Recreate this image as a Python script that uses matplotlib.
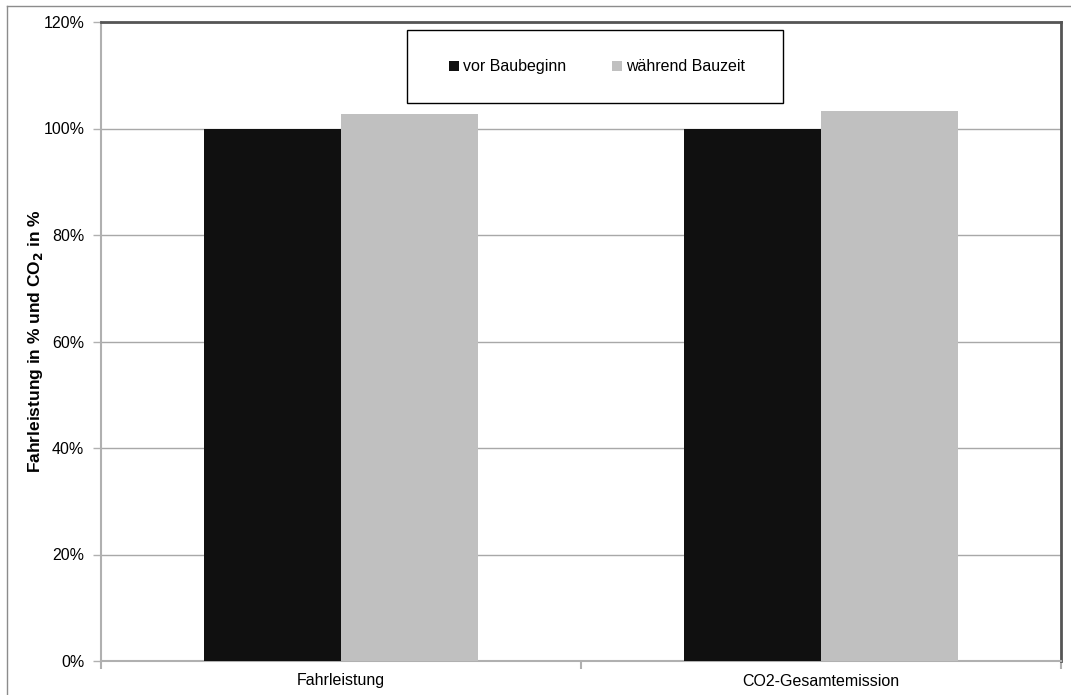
#!/usr/bin/env python3

import matplotlib
matplotlib.use("Agg")
import matplotlib.pyplot as plt
from matplotlib.lines import Line2D
from matplotlib.patches import Rectangle
import numpy as np

plt.rcParams['font.family'] = ['Liberation Sans', 'DejaVu Sans']

kategorien = ["Fahrleistung", "CO2-Gesamtemission"]
vor_baubeginn = [100.0, 100.0]
waehrend_bauzeit = [102.8, 103.3]
serien = ["vor Baubeginn", "während Bauzeit"]
y_ticks = [0, 20, 40, 60, 80, 100, 120]

fig = plt.figure(figsize=(10.71, 6.95), dpi=100)
ax = fig.add_axes([101/1071, 34/695, 960/1071, 639/695])

x = np.arange(len(kategorien))
w = 0.286
ax.bar(x - w/2, vor_baubeginn, w, color='#101010', zorder=3, label=serien[0])
ax.bar(x + w/2, waehrend_bauzeit, w, color='#c0c0c0', zorder=3, label=serien[1])

ax.set_xlim(-0.5, 1.5)
ax.set_ylim(0, 120)
ax.set_yticks(y_ticks)
ax.set_yticklabels([f"{v}%" for v in y_ticks])
ax.set_xticks(x)
ax.set_xticklabels(kategorien)
ax.set_xticks([-0.5, 0.5, 1.5], minor=True)
ax.tick_params(axis='x', which='major', length=0, pad=9, labelsize=11.5)
ax.tick_params(axis='x', which='minor', length=6, color='#b0b0b0', width=1.5)
ax.tick_params(axis='y', length=6, color='#b0b0b0', width=1, labelsize=11.5, pad=6)

ax.yaxis.grid(True, color='#a8a8a8', linewidth=1, zorder=0)
ax.set_axisbelow(True)

ax.spines['left'].set_color('#b0b0b0')
ax.spines['bottom'].set_color('#b0b0b0')
ax.spines['left'].set_linewidth(1.5)
ax.spines['bottom'].set_linewidth(1.5)
ax.spines['top'].set_color('#555555')
ax.spines['right'].set_color('#555555')
ax.spines['top'].set_linewidth(2)
ax.spines['right'].set_linewidth(2)

ax.set_ylabel("Fahrleistung in % und CO$_\\mathbf{2}$ in %", fontsize=12.5,
              fontweight='bold', labelpad=-1)

# legend box drawn separately so the padding can be wider than tall
ax.add_patch(Rectangle((0.3188, 0.8732), 0.3917, 0.1143, transform=ax.transAxes,
                       facecolor='white', edgecolor='black', linewidth=1, zorder=4))
leg = ax.legend(loc='center', bbox_to_anchor=(0.5166, 0.930), ncol=2, frameon=False,
                fontsize=11.5, handlelength=0.6, handleheight=0.6, handletextpad=0.25,
                columnspacing=2.9)
leg.set_zorder(5)

# outer chart frame (top and left edge)
fig.add_artist(Line2D([7/1071, 1], [1 - 6/695, 1 - 6/695], color='#8c8c8c', linewidth=1))
fig.add_artist(Line2D([7/1071, 7/1071], [0, 1 - 6/695], color='#8c8c8c', linewidth=1))

fig.savefig("out.png", dpi=100)
